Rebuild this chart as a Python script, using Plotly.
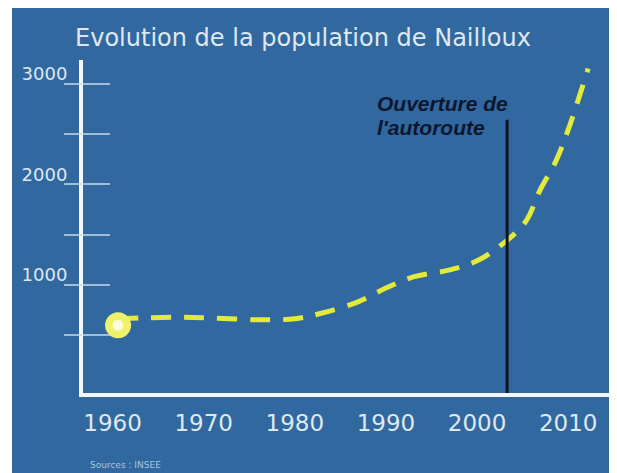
import plotly.graph_objects as go

# ---- data ----
years = [1960.6, 1963, 1967, 1971, 1976, 1980, 1983, 1987, 1990, 1993, 1997, 2000, 2002.7, 2005.3, 2006.9, 2008.6, 2010.0, 2012.2]
population = [665, 672, 680, 672, 655, 665, 722, 835, 970, 1080, 1150, 1240, 1400, 1625, 1940, 2220, 2540, 3150]
start_year = [1960.6]
start_pop = [600]
autoroute_year = 2003.3
autoroute_top = 2640
x_ticks = [1960, 1970, 1980, 1990, 2000, 2010]
y_ticks = [500, 1000, 1500, 2000, 2500, 3000]
y_ticktext = ["", "1000", "", "2000", "", "3000"]

# page body keeps its default 8px margin (white border top/left)
W, H = 609, 465
ML, MT, MB = 75, 52, 80
MR = 0
PW, PH = W - ML - MR, H - MT - MB

BG = "#31689f"
TXT = "#dfe8f1"
TICKC = "rgba(200,218,235,0.75)"

fig = go.Figure()

# autoroute vertical line
fig.add_trace(go.Scatter(
    x=[autoroute_year, autoroute_year], y=[-72, autoroute_top],
    mode="lines", line=dict(color="#0b1424", width=3),
    hoverinfo="skip", showlegend=False, yaxis="y3"))

# population curve
fig.add_trace(go.Scatter(
    x=years, y=population, mode="lines",
    line=dict(color="#e4ea3a", width=5, dash="20px,13px", shape="spline", smoothing=1.0),
    showlegend=False))

# start marker (glow)
fig.add_trace(go.Scatter(
    x=start_year, y=start_pop, mode="markers",
    marker=dict(size=26, color="#eef26a", line=dict(width=0)),
    showlegend=False, yaxis="y2"))
fig.add_trace(go.Scatter(
    x=start_year, y=start_pop, mode="markers",
    marker=dict(size=11, color="#fbfbd8", line=dict(width=0)),
    showlegend=False, yaxis="y2"))

yr = [-72, 3234]
xr = [1956.75, 2015.36]

fig.update_layout(
    width=W, height=H,
    margin=dict(l=ML, r=MR, t=MT, b=MB, pad=0),
    paper_bgcolor=BG, plot_bgcolor=BG,
    font=dict(family="DejaVu Sans", color=TXT),
    title=dict(text="Evolution de la population de Nailloux",
               x=295 / W, y=1 - 30 / H, xref="container", yref="container",
               xanchor="center", yanchor="middle",
               font=dict(family="DejaVu Sans", size=24, color=TXT)),
    xaxis=dict(range=xr, tickvals=x_ticks, ticks="outside", ticklen=6,
               tickcolor="rgba(0,0,0,0)", tickfont=dict(size=23, color=TXT),
               showline=True, linecolor="#f4f7fa", linewidth=4,
               showgrid=False, zeroline=False, fixedrange=True),
    yaxis=dict(range=yr, tickvals=y_ticks, ticktext=y_ticktext, ticks="outside",
               ticklen=8, tickcolor="rgba(0,0,0,0)", tickfont=dict(size=18, color=TXT),
               ticklabelshift=-10,
               showline=True, linecolor="#f4f7fa", linewidth=4,
               showgrid=False, zeroline=False),
    yaxis2=dict(range=yr, overlaying="y", side="left", tickvals=y_ticks,
                ticks="outside", ticklen=18, tickwidth=2, tickcolor=TICKC,
                showticklabels=False, showline=False, showgrid=False, zeroline=False),
    yaxis3=dict(range=yr, overlaying="y", side="left", tickvals=y_ticks,
                ticks="inside", ticklen=27, tickwidth=2, tickcolor=TICKC,
                showticklabels=False, showline=False, showgrid=False, zeroline=False),
)

# extra white strip on the left (border is 12px wide there)
fig.add_shape(type="rect", xref="paper", yref="paper",
              x0=(0 - ML) / PW, x1=(4 - ML) / PW, y0=(MT + PH - H) / PH, y1=(MT + PH) / PH,
              fillcolor="white", line=dict(width=0), layer="above")

# autoroute label
fig.add_annotation(x=1988.8, y=2807, xref="x", yref="y", text="<b><i>Ouverture de</i></b>",
                   showarrow=False, xanchor="left", yanchor="middle",
                   font=dict(family="Liberation Sans", size=21, color="#0b1730"))
fig.add_annotation(x=1988.8, y=2559, xref="x", yref="y", text="<b><i>l'autoroute</i></b>",
                   showarrow=False, xanchor="left", yanchor="middle",
                   font=dict(family="Liberation Sans", size=21, color="#0b1730"))

# source
fig.add_annotation(x=(80 - ML) / PW, y=(MT + PH - 457) / PH, xref="paper", yref="paper",
                   text="Sources : INSEE", showarrow=False, xanchor="left", yanchor="middle",
                   font=dict(family="DejaVu Sans", size=9, color="#a8c6e2"))

fig.write_html("out.html")
